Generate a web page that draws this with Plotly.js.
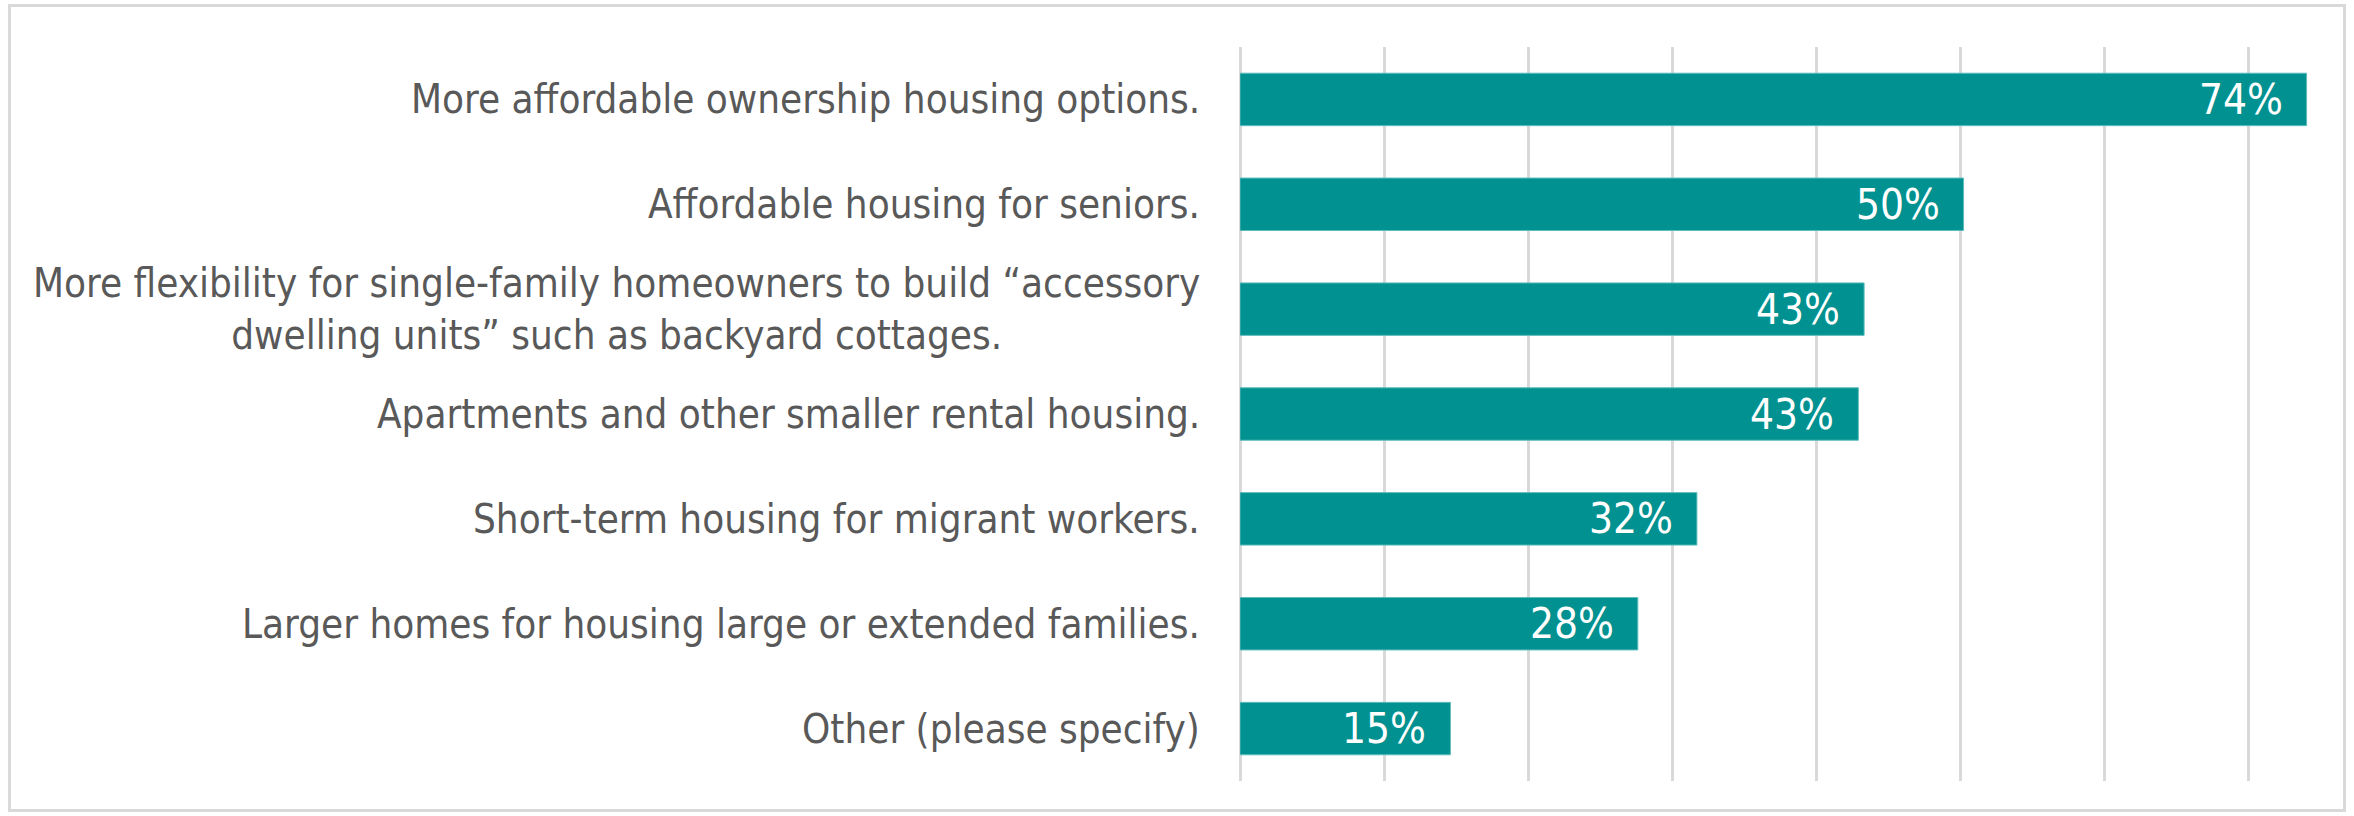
<!DOCTYPE html>
<html>
<head>
<meta charset="utf-8">
<script src="https://cdn.plot.ly/plotly-3.0.1.min.js"></script>
<style>
  body { margin: 0; background: #fff; }
  #frame {
    position: absolute; left: 8px; top: 4px;
    width: 2338px; height: 808px;
    box-sizing: border-box; border: 3px solid #d9d9d9;
  }
  #chart { position: absolute; left: 0; top: 0; width: 2354px; height: 816px; }
</style>
</head>
<body>
<div id="frame"></div>
<div id="chart"></div>
<script>
const categories = [
  "More affordable ownership housing options.",
  "Affordable housing for seniors.",
  "More flexibility for single-family homeowners to build \u201caccessory<br>dwelling units\u201d such as backyard cottages.",
  "Apartments and other smaller rental housing.",
  "Short-term housing for migrant workers.",
  "Larger homes for housing large or extended families.",
  "Other (please specify)"
];
const shares = [74.0, 50.2, 43.3, 42.9, 31.7, 27.6, 14.6];
const shareLabels = ["74%", "50%", "43%", "43%", "32%", "28%", "15%"];

const fontStack = "'DejaVu Sans Condensed', 'Liberation Sans Narrow', 'DejaVu Sans', sans-serif";
const labelFont = { family: fontStack, size: 40, color: "#595959" };
const valueFont = { family: fontStack, size: 42, color: "#ffffff" };

const trace = {
  type: "bar",
  orientation: "h",
  x: shares,
  y: categories,
  marker: { color: "#009190", line: { color: "#5cbcbc", width: 1 } },
  hoverinfo: "none"
};

// category labels as annotations so the two-line one can be centred
const catLabels = categories.map(c => ({
  x: 0, y: c, xref: "x", yref: "y",
  xanchor: "right", xshift: -38,
  align: "center",
  text: c,
  showarrow: false,
  font: labelFont
}));

// value labels just inside the end of each bar
const valLabels = shares.map((v, i) => ({
  x: v, y: categories[i], xref: "x", yref: "y",
  xanchor: "right", xshift: -22,
  text: shareLabels[i],
  showarrow: false,
  font: valueFont
}));

const layout = {
  width: 2354,
  height: 816,
  margin: { l: 1240, r: 33, t: 47, b: 35, pad: 0 },
  paper_bgcolor: "rgba(0,0,0,0)",
  plot_bgcolor: "rgba(0,0,0,0)",
  bargap: 0.5,
  showlegend: false,
  xaxis: {
    range: [0, 75],
    dtick: 10,
    showticklabels: false,
    showgrid: true,
    gridcolor: "#d9d9d9",
    gridwidth: 3,
    zeroline: true,
    zerolinecolor: "#d9d9d9",
    zerolinewidth: 3,
    fixedrange: true
  },
  yaxis: {
    type: "category",
    autorange: "reversed",
    showticklabels: false,
    showgrid: false,
    zeroline: false,
    fixedrange: true
  },
  annotations: catLabels.concat(valLabels)
};

Plotly.newPlot("chart", [trace], layout, { displayModeBar: false, staticPlot: true });
</script>
</body>
</html>
